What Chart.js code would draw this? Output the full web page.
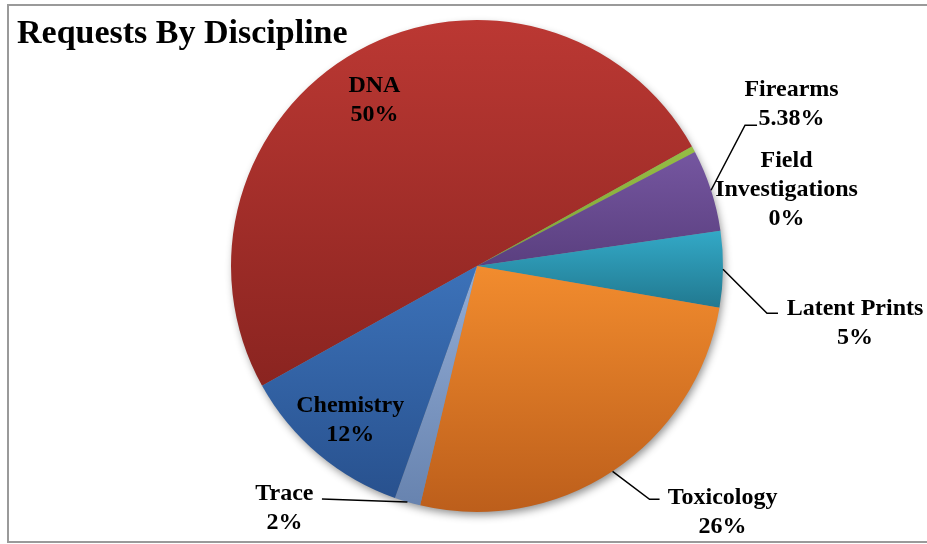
<!DOCTYPE html>
<html>
<head>
<meta charset="utf-8">
<script src="https://cdn.jsdelivr.net/npm/chart.js@4"></script>
<style>
  body { margin: 0; background: #fff; }
  canvas { display: block; }
</style>
</head>
<body>
<canvas id="myChart" width="927" height="544"></canvas>
<script>
// Datos de la grafica (orden de las rebanadas, sentido horario)
const categorias = ['DNA', 'Field Investigations', 'Firearms', 'Latent Prints', 'Toxicology', 'Trace', 'Chemistry'];
const valores = [50, 0.4, 5.38, 5, 26, 1.7, 11.5];
const etiquetasPct = ['50%', '0%', '5.38%', '5%', '26%', '2%', '12%'];
const titulo = 'Requests By Discipline';

// colores: claro arriba, oscuro abajo (degradado por rebanada)
const coloresClaros = ['#bb3833', '#95bd45', '#7556a0', '#33a9c7', '#f28c2e', '#93add6', '#3c72b9'];
const coloresOscuros = ['#8a2420', '#7fa336', '#5a3f7f', '#21788f', '#bc5e1b', '#6783af', '#28518e'];
const rotacion = 240.9;
const fuente = '"Liberation Serif", "Times New Roman", serif';

// posicion de cada etiqueta respecto al punto medio del arco exterior
const disposicion = [
  { dx: 17, dy: 41 },
  { dx: 93, dy: 18, partir: true },
  { dx: 80.5, dy: -94, codo: [-46.5, 29], fin: [-34.5, 29] },
  { dx: 132, dy: 46, codo: [-88, -2], fin: [-77, -2] },
  { dx: 110, dy: 33, codo: [-73, -5], fin: [-63, -5] },
  { dx: -123, dy: -2, codo: [37.5, -1], fin: [37.5, -1] },
  { dx: 32, dy: -42 }
];

// geometria de una rebanada a partir del area de la grafica
function geometria(chart, i) {
  const a = chart.chartArea;
  const cx = (a.left + a.right) / 2, cy = (a.top + a.bottom) / 2;
  const r = Math.min(a.right - a.left, a.bottom - a.top) / 2;
  const total = valores.reduce((s, v) => s + v, 0);
  let ini = (rotacion - 90) * Math.PI / 180;
  for (let k = 0; k < i; k++) ini += valores[k] / total * 2 * Math.PI;
  const fin = ini + valores[i] / total * 2 * Math.PI;
  return { cx, cy, r, ini, fin };
}

function degradado(context) {
  const chart = context.chart;
  const i = context.dataIndex;
  if (!chart.chartArea || i === undefined) return coloresClaros[i || 0];
  const g = geometria(chart, i);
  const ys = [g.cy, g.cy + g.r * Math.sin(g.ini), g.cy + g.r * Math.sin(g.fin)];
  for (let n = -2; n <= 3; n++) {
    const abajo = Math.PI / 2 + n * 2 * Math.PI;
    const arriba = -Math.PI / 2 + n * 2 * Math.PI;
    if (abajo >= g.ini && abajo <= g.fin) ys.push(g.cy + g.r);
    if (arriba >= g.ini && arriba <= g.fin) ys.push(g.cy - g.r);
  }
  const y0 = Math.min(...ys), y1 = Math.max(...ys);
  const grad = chart.ctx.createLinearGradient(0, y0, 0, y1 + 1);
  grad.addColorStop(0, coloresClaros[i]);
  grad.addColorStop(1, coloresOscuros[i]);
  return grad;
}

// marco, titulo y sombra
const decoracion = {
  id: 'decoracion',
  beforeDraw(chart) {
    const ctx = chart.ctx;
    ctx.save();
    ctx.fillStyle = '#fff';
    ctx.fillRect(0, 0, chart.width, chart.height);
    ctx.strokeStyle = '#9a9a9a';
    ctx.lineWidth = 2;
    ctx.strokeRect(8, 5, chart.width + 10, 537);
    ctx.restore();
  },
  beforeDatasetsDraw(chart) {
    const arc = chart.getDatasetMeta(0).data[0];
    const ctx = chart.ctx;
    ctx.save();
    ctx.shadowColor = 'rgba(0,0,0,0.45)';
    ctx.shadowBlur = 9;
    ctx.shadowOffsetX = 2;
    ctx.shadowOffsetY = 4;
    ctx.fillStyle = '#888';
    ctx.beginPath();
    ctx.arc(arc.x, arc.y, arc.outerRadius - 1, 0, Math.PI * 2);
    ctx.fill();
    ctx.restore();
  },
  afterDraw(chart) {
    const ctx = chart.ctx;
    ctx.save();
    ctx.fillStyle = '#000';
    ctx.font = 'bold 34px ' + fuente;
    ctx.textAlign = 'left';
    ctx.textBaseline = 'alphabetic';
    ctx.fillText(titulo, 17, 43);
    ctx.restore();
  }
};

// etiquetas de datos con lineas guia
const etiquetas = {
  id: 'etiquetas',
  afterDatasetsDraw(chart) {
    const ctx = chart.ctx;
    const arcs = chart.getDatasetMeta(0).data;
    ctx.save();
    ctx.font = 'bold 24px ' + fuente;
    ctx.textAlign = 'center';
    ctx.textBaseline = 'alphabetic';
    ctx.fillStyle = '#000';
    ctx.strokeStyle = '#000';
    ctx.lineWidth = 1.5;
    arcs.forEach((arc, i) => {
      const d = disposicion[i];
      const medio = (arc.startAngle + arc.endAngle) / 2;
      const px = arc.x + Math.cos(medio) * arc.outerRadius;
      const py = arc.y + Math.sin(medio) * arc.outerRadius;
      const lx = px + d.dx, ly = py + d.dy;
      if (d.codo) {
        ctx.beginPath();
        ctx.moveTo(px, py);
        ctx.lineTo(lx + d.codo[0], ly + d.codo[1]);
        ctx.lineTo(lx + d.fin[0], ly + d.fin[1]);
        ctx.stroke();
      }
      const lineas = d.partir ? categorias[i].split(' ') : [categorias[i]];
      lineas.push(etiquetasPct[i]);
      lineas.forEach((t, k) => ctx.fillText(t, lx, ly + k * 29));
    });
    ctx.restore();
  }
};

const ctx = document.getElementById('myChart');
const myChart = new Chart(ctx, {
  type: 'pie',
  data: {
    labels: categorias,
    datasets: [{
      data: valores,
      backgroundColor: degradado,
      borderWidth: 0
    }]
  },
  options: {
    responsive: false,
    animation: false,
    events: [],
    rotation: rotacion,
    layout: { padding: { left: 231, right: 204, top: 20, bottom: 32 } },
    plugins: {
      legend: { display: false },
      tooltip: { enabled: false }
    }
  },
  plugins: [decoracion, etiquetas]
});
</script>
</body>
</html>
